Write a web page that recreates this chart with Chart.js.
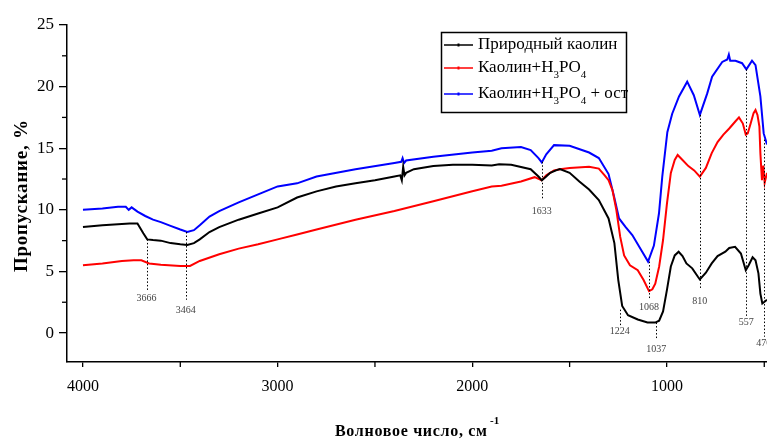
<!DOCTYPE html>
<html>
<head>
<meta charset="utf-8">
<script src="https://cdn.jsdelivr.net/npm/chart.js@4.4.0/dist/chart.umd.min.js"></script>
<style>
  html, body { margin: 0; padding: 0; background: #fff; }
</style>
</head>
<body>
<canvas id="ftir" width="767" height="439"></canvas>
<script>
// волновые числа и пропускание
const seriesNames = ['Природный каолин', 'Каолин+H3PO4', 'Каолин+H3PO4 + ост'];
const seriesColors = ['#000000', '#ff0000', '#0000ff'];

const blackWn = [4000, 3900, 3800, 3760, 3720, 3690, 3670, 3640, 3600, 3550,
                 3500, 3464, 3430, 3400, 3350, 3300, 3200, 3100, 3000, 2900,
                 2800, 2700, 2600, 2500, 2400, 2370, 2362, 2355, 2348, 2340,
                 2300, 2200, 2100, 2000, 1900, 1862, 1800, 1700, 1660, 1643,
                 1620, 1600, 1570, 1550, 1500, 1450, 1400, 1350, 1300, 1270,
                 1250, 1230, 1200, 1150, 1100, 1060, 1040, 1020, 1000, 980,
                 960, 940, 920, 900, 870, 840, 831, 800, 770, 740,
                 700, 680, 650, 620, 595, 580, 560, 545, 530, 520,
                 510, 486];
const blackT  = [8.6, 8.75, 8.85, 8.9, 8.9, 8.1, 7.6, 7.55, 7.5, 7.3,
                 7.2, 7.15, 7.3, 7.6, 8.2, 8.6, 9.2, 9.7, 10.2, 11.0,
                 11.5, 11.9, 12.15, 12.4, 12.7, 12.8, 12.4, 13.5, 12.8, 13.0,
                 13.3, 13.55, 13.65, 13.65, 13.6, 13.7, 13.65, 13.3, 12.7, 12.4,
                 12.7, 13.0, 13.2, 13.3, 13.0, 12.3, 11.65, 10.8, 9.3, 7.3,
                 4.3, 2.2, 1.45, 1.1, 0.85, 0.85, 1.0, 1.75, 3.5, 5.4,
                 6.3, 6.6, 6.25, 5.65, 5.25, 4.55, 4.35, 4.9, 5.65, 6.25,
                 6.6, 6.9, 7.0, 6.45, 5.1, 5.5, 6.15, 5.9, 4.85, 3.2,
                 2.4, 2.7];

const redWn = [4000, 3900, 3800, 3740, 3700, 3660, 3600, 3500, 3450, 3400,
               3300, 3200, 3100, 3000, 2900, 2800, 2600, 2400, 2200, 2000,
               1900, 1850, 1750, 1680, 1643, 1620, 1580, 1550, 1500, 1400,
               1350, 1320, 1300, 1280, 1260, 1240, 1220, 1190, 1150, 1120,
               1092, 1075, 1060, 1040, 1020, 1000, 980, 960, 945, 920,
               890, 860, 831, 800, 770, 740, 710, 680, 650, 630,
               610, 595, 585, 570, 555, 545, 535, 525, 520, 512,
               505, 498, 486];
const redT  = [5.5, 5.65, 5.85, 5.9, 5.9, 5.65, 5.55, 5.45, 5.45, 5.85,
               6.4, 6.85, 7.2, 7.6, 8.0, 8.4, 9.2, 9.9, 10.7, 11.5,
               11.9, 11.95, 12.3, 12.65, 12.4, 12.8, 13.2, 13.3, 13.4, 13.5,
               13.35, 12.8, 12.4, 11.6, 10.0, 7.8, 6.3, 5.5, 5.1, 4.3,
               3.4, 3.55, 4.0, 5.4, 7.55, 10.5, 13.0, 14.05, 14.45, 14.05,
               13.55, 13.2, 12.7, 13.4, 14.6, 15.5, 16.1, 16.6, 17.15, 17.5,
               17.0, 16.1, 16.2, 17.0, 17.85, 18.1, 17.7, 16.75, 14.6, 12.4,
               13.6, 12.2, 13.0];

const blueWn = [4000, 3900, 3820, 3780, 3765, 3750, 3720, 3680, 3640, 3600,
                3550, 3500, 3464, 3430, 3400, 3350, 3300, 3200, 3100, 3000,
                2900, 2800, 2600, 2400, 2365, 2358, 2350, 2340, 2200, 2000,
                1900, 1850, 1750, 1700, 1660, 1643, 1620, 1580, 1500, 1400,
                1350, 1300, 1272, 1246, 1212, 1178, 1127, 1097, 1067, 1041,
                1024, 998, 973, 938, 896, 862, 831, 793, 768, 716,
                690, 682, 675, 648, 614, 592, 563, 545, 520, 503,
                486];
const blueT  = [10.0, 10.1, 10.25, 10.25, 10.0, 10.2, 9.85, 9.5, 9.2, 9.0,
                8.7, 8.4, 8.2, 8.35, 8.75, 9.45, 9.9, 10.6, 11.25, 11.9,
                12.15, 12.7, 13.3, 13.8, 13.9, 14.2, 13.8, 14.0, 14.3, 14.65,
                14.8, 15.0, 15.1, 14.85, 14.2, 13.85, 14.5, 15.25, 15.2, 14.65,
                14.2, 12.9, 11.1, 9.3, 8.6, 7.95, 6.6, 5.8, 7.1, 9.7,
                12.7, 16.3, 17.8, 19.2, 20.4, 19.3, 17.7, 19.45, 20.8, 22.0,
                22.2, 22.6, 22.1, 22.1, 21.9, 21.4, 22.1, 21.75, 19.2, 16.2,
                15.3];

// подписи полос поглощения
const peakLabels = ['3666', '3464', '1633', '1224', '1068', '1037', '810', '557', '470'];
const peakWn     = [3673, 3472, 1643, 1243, 1092, 1055, 831, 592, 503];
const peakTop    = [7.6, 8.2, 13.9, 1.9, 5.8, 0.85, 17.7, 21.4, 15.7];
const peakBottom = [3.5, 2.7, 10.8, 0.5, 2.7, -0.55, 3.65, 1.3, -0.3];
const peakTextY  = [2.85, 1.8, 9.9, 0.15, 2.05, -1.3, 2.55, 0.83, -0.8];

const xMajor = [4000, 3000, 2000, 1000];
const xMinor = [3500, 2500, 1500, 500];
const yMajor = [0, 5, 10, 15, 20, 25];
const yMinor = [2.5, 7.5, 12.5, 17.5, 22.5];

const serif = "'Liberation Serif', 'Times New Roman', serif";

function pairs(wn, t) {
  return wn.map((v, i) => ({ x: v, y: t[i] }));
}

function fitText(ctx, text, cx, cy, width) {
  const w = ctx.measureText(text).width;
  const gap = (width - w) / (text.length - 1);
  if ('letterSpacing' in ctx) {
    ctx.letterSpacing = gap + 'px';
    ctx.textAlign = 'left';
    ctx.fillText(text, cx - width / 2, cy);
    ctx.letterSpacing = '0px';
  } else {
    ctx.textAlign = 'center';
    ctx.fillText(text, cx, cy);
  }
}

const extras = {
  id: 'extras',
  afterDatasetsDraw(chart) {
    const { ctx, scales: { x, y } } = chart;
    ctx.save();
    // пунктирные линии пиков
    ctx.strokeStyle = '#000';
    ctx.lineWidth = 1;
    ctx.setLineDash([1.5, 2]);
    peakWn.forEach((v, i) => {
      const px = Math.round(x.getPixelForValue(v)) + 0.5;
      ctx.beginPath();
      ctx.moveTo(px, y.getPixelForValue(peakTop[i]));
      ctx.lineTo(px, y.getPixelForValue(peakBottom[i]));
      ctx.stroke();
    });
    ctx.setLineDash([]);
    ctx.fillStyle = '#444';
    ctx.font = `10px ${serif}`;
    ctx.textAlign = 'center';
    ctx.textBaseline = 'middle';
    peakWn.forEach((v, i) => {
      ctx.fillText(peakLabels[i], x.getPixelForValue(v), y.getPixelForValue(peakTextY[i]));
    });

    // малые деления
    ctx.strokeStyle = '#000';
    ctx.lineWidth = 1.3;
    xMinor.forEach(v => {
      const px = x.getPixelForValue(v);
      ctx.beginPath();
      ctx.moveTo(px, x.top);
      ctx.lineTo(px, x.top + 5);
      ctx.stroke();
    });
    yMinor.forEach(v => {
      const py = y.getPixelForValue(v);
      ctx.beginPath();
      ctx.moveTo(y.right, py);
      ctx.lineTo(y.right - 5, py);
      ctx.stroke();
    });

    // легенда
    const bx = 441.5, by = 32.5, bw = 185, bh = 80;
    ctx.lineWidth = 1.5;
    ctx.strokeStyle = '#000';
    ctx.fillStyle = '#fff';
    ctx.fillRect(bx, by, bw, bh);
    ctx.strokeRect(bx, by, bw, bh);
    const rows = [45, 68, 94];
    ctx.textAlign = 'left';
    ctx.textBaseline = 'middle';
    seriesNames.forEach((name, i) => {
      const ry = rows[i];
      ctx.strokeStyle = seriesColors[i];
      ctx.lineWidth = 1.5;
      ctx.beginPath();
      ctx.moveTo(444, ry);
      ctx.lineTo(473, ry);
      ctx.stroke();
      ctx.fillStyle = seriesColors[i];
      ctx.fillRect(457.5, ry - 1.5, 2, 3);
      ctx.fillStyle = '#000';
      let tx = 478;
      name.split(/(\d)/).forEach(part => {
        if (!part) return;
        const sub = /^\d$/.test(part);
        ctx.font = sub ? `11px ${serif}` : `17px ${serif}`;
        ctx.fillText(part, tx, sub ? ry + 7 : ry);
        tx += ctx.measureText(part).width;
      });
    });

    // подписи осей
    ctx.fillStyle = '#000';
    ctx.textBaseline = 'middle';
    ctx.save();
    ctx.translate(22, 196);
    ctx.rotate(-Math.PI / 2);
    ctx.font = `bold 19px ${serif}`;
    fitText(ctx, 'Пропускание, %', 0, 0, 152);
    ctx.restore();

    ctx.font = `bold 16px ${serif}`;
    fitText(ctx, 'Волновое число, см', 411, 432, 152);
    ctx.font = `bold 11px ${serif}`;
    ctx.textAlign = 'left';
    ctx.fillText('-1', 490, 421);
    ctx.restore();
  }
};

new Chart(document.getElementById('ftir'), {
  type: 'line',
  data: {
    datasets: [
      { label: seriesNames[0], data: pairs(blackWn, blackT), borderColor: seriesColors[0] },
      { label: seriesNames[1], data: pairs(redWn, redT), borderColor: seriesColors[1] },
      { label: seriesNames[2], data: pairs(blueWn, blueT), borderColor: seriesColors[2] }
    ]
  },
  options: {
    responsive: false,
    animation: false,
    devicePixelRatio: 1,
    layout: { padding: { top: 25, right: 0, left: 0, bottom: 0 } },
    elements: {
      line: { borderWidth: 2, tension: 0, fill: false },
      point: { radius: 0, hoverRadius: 0 }
    },
    plugins: {
      legend: { display: false },
      tooltip: { enabled: false }
    },
    scales: {
      x: {
        type: 'linear',
        reverse: true,
        min: 486,
        max: 4082,
        afterBuildTicks: s => { s.ticks = xMajor.map(v => ({ value: v })); },
        afterFit: s => { s.height = 77; },
        grid: { drawOnChartArea: false, drawTicks: true, tickLength: 5, color: '#000', lineWidth: 1.3 },
        border: { display: true, color: '#000', width: 1.5 },
        ticks: { color: '#000', font: { family: serif, size: 16 }, padding: 10, maxRotation: 0, autoSkip: false,
                 callback: v => String(v) }
      },
      y: {
        min: -2.35,
        max: 25,
        afterBuildTicks: s => { s.ticks = yMajor.map(v => ({ value: v })); },
        afterFit: s => { s.width = 67; },
        grid: { drawOnChartArea: false, drawTicks: true, tickLength: 8, color: '#000', lineWidth: 1.3 },
        border: { display: true, color: '#000', width: 1.5 },
        ticks: { color: '#000', font: { family: serif, size: 17 }, padding: 5, callback: v => String(v) }
      }
    }
  },
  plugins: [extras]
});
</script>
</body>
</html>
